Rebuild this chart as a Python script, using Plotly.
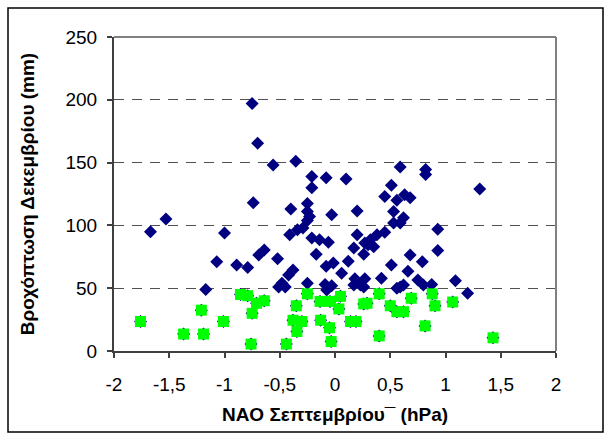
import plotly.graph_objects as go

# NAO (x) vs precipitation (y): blue-only points
blue_x = [-0.75, -0.70, -0.56, -0.355, -0.21, -0.08, -0.21, 0.10, 0.59, 0.82, 0.82, 1.31,
          0.51, 0.45, 0.56, 0.63, 0.68, -0.74, -0.25, -0.40, -0.25, -0.23, -0.25, -0.03,
          0.20, 0.53, 0.62, 0.59, 0.53, 0.93, -1.53, -1.67, -1.00, -0.41, -0.34, -0.29,
          -0.21, -0.14, -0.06, 0.20, 0.45, 0.38, 0.32, 0.27, 0.35, 0.30, 0.17, 0.26,
          -1.07, -0.89, -0.79, -0.64, -0.69, -0.52, -0.17, -0.08, -0.015, 0.12, 0.06,
          -0.38, -0.42, -0.48, -0.51, -0.45, -0.25, -0.09, -0.075, -0.03, 0.18, 0.27,
          0.23, 0.17, 0.26, 0.42, 0.51, 0.68, 0.66, 0.79, 0.93, 0.75, 0.80, 0.875,
          1.09, 1.20, 0.59, 0.62, 0.56, -1.17]
blue_y = [197, 165.5, 148, 151, 139, 138, 130, 137, 146.5, 144.5, 140.5, 129,
          132, 123, 120, 124.5, 122, 118, 117.5, 113, 111, 107, 104, 108.5,
          111.5, 111, 106, 102, 102, 97, 105, 95, 94, 92.5, 96.5, 98,
          90, 88.5, 86.5, 92.5, 94.5, 92.5, 88.5, 86, 83, 84.5, 82, 77,
          71, 68.5, 66.5, 80.5, 76.5, 73.5, 77, 67.5, 70, 71.5, 62,
          64.5, 60.5, 54, 51, 51, 54, 53, 48.5, 52, 57.5, 57.5,
          52.5, 52.5, 51, 58, 68.5, 76.5, 63.5, 71, 80, 56.5, 52.5, 53,
          56, 46, 51, 52.5, 50, 49]

# points highlighted in green (also part of the blue series underneath)
green_x = [-1.76, -1.21, -1.37, -1.19, -1.01, -0.855, -0.79, -0.64, -0.71, -0.75, -0.76,
           -0.25, -0.35, -0.38, -0.30, -0.345, -0.44, -0.135, -0.045, -0.13, -0.05, -0.035,
           0.05, 0.035, 0.14, 0.19, 0.26, 0.29, 0.40, 0.40, 0.50, 0.56, 0.62, 0.69,
           0.815, 0.88, 0.905, 1.065, 1.43]
green_y = [23.5, 32.5, 13.5, 13.5, 23.5, 45, 44, 40, 38, 30, 5.5,
           45.5, 36, 24.5, 23.5, 15.5, 5.5, 39.5, 39.5, 24.5, 18.5, 7.5,
           43.5, 33.5, 23.5, 23.5, 37.5, 38, 45.5, 12, 36, 31.3, 31.3, 42,
           20, 45.5, 36, 39, 10.5]

x_ticks = [-2, -1.5, -1, -0.5, 0, 0.5, 1, 1.5, 2]
x_ticktext = ["-2", "-1,5", "-1", "-0,5", "0", "0,5", "1", "1,5", "2"]
y_ticks = [0, 50, 100, 150, 200, 250]
y_ticktext = ["0", "50", "100", "150", "200", "250"]

NAVY = "#000080"
GREEN = "#00FF00"
FONT = "Arial, Liberation Sans, sans-serif"

fig = go.Figure()
fig.add_trace(go.Scatter(x=blue_x + green_x, y=blue_y + green_y, mode="markers",
                         marker=dict(symbol="diamond", size=10, color=NAVY, line=dict(width=0)),
                         hoverinfo="skip", showlegend=False))
fig.add_trace(go.Scatter(x=green_x, y=green_y, mode="markers",
                         marker=dict(symbol="square", size=11, color=GREEN, line=dict(width=0)),
                         hoverinfo="skip", showlegend=False))

L, R, T, B = 114, 53, 37, 86
W, H = 609, 437
pw, ph = W - L - R, H - T - B

def px2paper_x(px):
    return (px - L) / pw

def px2paper_y(py):
    return (H - B - py) / ph

fig.update_layout(
    width=W, height=H,
    margin=dict(l=L, r=R, t=T, b=B),
    paper_bgcolor="white", plot_bgcolor="white",
    font=dict(family=FONT, size=19, color="black"),
    xaxis=dict(range=[-2, 2], tickvals=x_ticks, ticktext=x_ticktext,
               showgrid=False, zeroline=False, showline=True, linecolor="#404040", linewidth=2,
               ticks="outside", ticklen=5, tickcolor="#404040", tickwidth=1.5,
               ticklabelstandoff=10,
               title=dict(text="<b>NAO Σεπτεμβρίου¯ (hPa)</b>", font=dict(size=19), standoff=14)),
    yaxis=dict(range=[0, 250], tickvals=y_ticks, ticktext=y_ticktext,
               showgrid=True, gridcolor="#505050", gridwidth=1, griddash="10px,8px",
               zeroline=False, showline=True, linecolor="#404040", linewidth=2,
               ticks="outside", ticklen=5, tickcolor="#404040", tickwidth=1.5,
               ticklabelstandoff=6,
               title=dict(text="<b>Βροχόπτωση Δεκεμβρίου (mm)</b>", font=dict(size=19), standoff=26)),
    shapes=[
        dict(type="line", xref="paper", yref="paper", x0=0, x1=1, y0=1, y1=1,
             line=dict(color="#808080", width=2)),
        dict(type="line", xref="paper", yref="paper", x0=1, x1=1, y0=0, y1=1,
             line=dict(color="#808080", width=2)),
        dict(type="rect", xref="paper", yref="paper",
             x0=px2paper_x(8), x1=px2paper_x(603), y0=px2paper_y(432), y1=px2paper_y(8),
             line=dict(color="black", width=1.5), fillcolor="rgba(0,0,0,0)"),
    ],
)

fig.write_html("out.html")
